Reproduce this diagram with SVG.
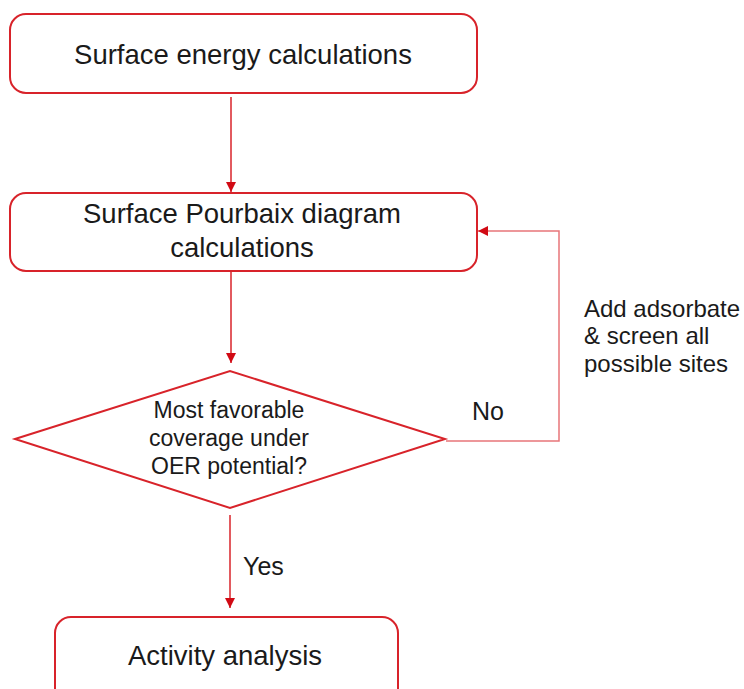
<svg xmlns="http://www.w3.org/2000/svg" width="744" height="689" viewBox="0 0 744 689">
<style>
.box{fill:#fff;stroke:#d8232a;stroke-width:2}
.t{font-family:"Liberation Sans",Arial,sans-serif;fill:#1a1a1a}
.big{font-size:27.5px}
.mid{font-size:23px}
.lbl{font-size:24px}
.c{stroke:#d8232a;stroke-width:1.5;fill:none}
.loop{stroke:#e8767a;stroke-width:1.5;fill:none}
</style>
<defs>
<marker id="ah" viewBox="0 0 10 10" refX="10" refY="5" markerWidth="10" markerHeight="10" markerUnits="userSpaceOnUse" orient="auto">
<path d="M0,0 L10,5 L0,10 Z" fill="#d10a14"/>
</marker>
</defs>
<rect width="744" height="689" fill="#fff"/>
<g id="connectors">
<line class="c" x1="231" y1="97" x2="231" y2="192" marker-end="url(#ah)"/>
<line class="c" x1="231" y1="272" x2="231" y2="363" marker-end="url(#ah)"/>
<line class="c" x1="230" y1="515" x2="230" y2="608" marker-end="url(#ah)"/>
<polyline class="loop" points="446,441 559,441 559,231 478,231" marker-end="url(#ah)"/>
<text class="t lbl" x="472" y="420" style="font-size:25px">No</text>
<text class="t lbl" x="243" y="575" style="font-size:25px">Yes</text>
<text class="t lbl" x="584" y="317">Add adsorbate</text>
<text class="t lbl" x="584" y="344">&amp; screen all</text>
<text class="t lbl" x="584" y="372">possible sites</text>
</g>
<g id="n1">
<rect class="box" x="10" y="14" width="467" height="79" rx="16"/>
<text class="t big" x="243" y="64" text-anchor="middle">Surface energy calculations</text>
</g>
<g id="n2">
<rect class="box" x="10" y="193" width="467" height="78" rx="16"/>
<text class="t big" x="242" y="223" text-anchor="middle">Surface Pourbaix diagram</text>
<text class="t big" x="242" y="257" text-anchor="middle">calculations</text>
</g>
<g id="n3">
<polygon class="box" points="15,439 230,371 445,439 230,508"/>
<text class="t mid" x="229" y="418" text-anchor="middle">Most favorable</text>
<text class="t mid" x="229" y="446" text-anchor="middle">coverage under</text>
<text class="t mid" x="229" y="474" text-anchor="middle">OER potential?</text>
</g>
<g id="n4">
<rect class="box" x="55" y="617" width="343" height="90" rx="16"/>
<text class="t big" x="225" y="665" text-anchor="middle">Activity analysis</text>
</g>
</svg>
